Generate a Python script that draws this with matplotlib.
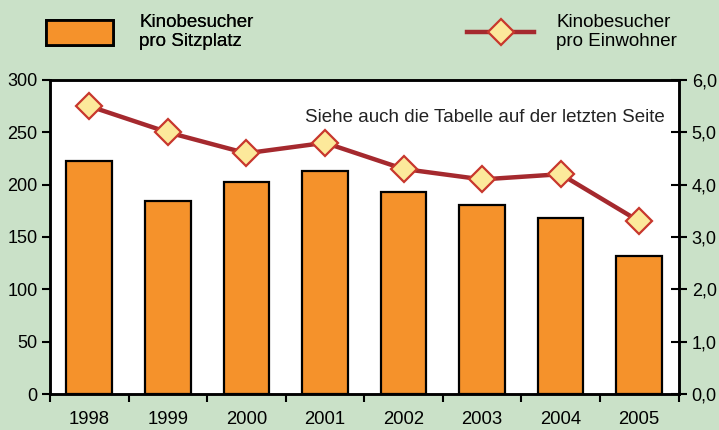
import matplotlib
matplotlib.use("Agg")
import matplotlib.pyplot as plt
from matplotlib.patches import Patch
from matplotlib.lines import Line2D
from matplotlib.ticker import FuncFormatter

years = ["1998", "1999", "2000", "2001", "2002", "2003", "2004", "2005"]
per_seat = [223, 184, 203, 213, 193, 181, 168, 132]
per_capita = [5.5, 5.0, 4.6, 4.8, 4.3, 4.1, 4.2, 3.3]
label_bar = "Kinobesucher\npro Sitzplatz"
label_line = "Kinobesucher\npro Einwohner"
note = "Siehe auch die Tabelle auf der letzten Seite"

BG = "#CAE1C8"
ORANGE = "#F5922B"
RED = "#A5292E"
YELLOW = "#FCE99B"
MARK_EDGE = "#C8372D"

plt.rcParams["font.family"] = ["Liberation Sans", "DejaVu Sans"]
plt.rcParams["font.size"] = 13

fig = plt.figure(figsize=(7.19, 4.30), dpi=100, facecolor=BG)
ax = fig.add_axes([0.0695, 0.0837, 0.8742, 0.7303])
ax.set_facecolor("white")
x = list(range(len(years)))
ax.bar(x, per_seat, width=0.58, color=ORANGE, edgecolor="black", linewidth=1.6, zorder=2)
ax.set_xlim(-0.5, len(years) - 0.5)
ax.set_ylim(0, 300)
ax.set_yticks(range(0, 301, 50))
ax.set_xticks([i - 0.5 for i in range(len(years) + 1)], minor=False)
ax.set_xticklabels([])
ax.set_xticks(x, minor=True)
ax.set_xticklabels(years, minor=True, fontsize=13.3)
ax.tick_params(axis="x", which="major", direction="out", length=6, width=1.5)
ax.tick_params(axis="x", which="minor", length=0, pad=12)
ax.tick_params(axis="y", direction="out", length=6, width=1.5, pad=3)
for s in ax.spines.values():
    s.set_linewidth(1.8)

ax2 = ax.twinx()
ax2.plot(x, per_capita, color=RED, linewidth=3.2, marker="D", markersize=13,
         markerfacecolor=YELLOW, markeredgecolor=MARK_EDGE, markeredgewidth=1.6, zorder=3)
ax2.set_ylim(0, 6)
ax2.set_yticks(range(0, 7))
ax2.yaxis.set_major_formatter(FuncFormatter(lambda v, p: f"{v:.1f}".replace(".", ",")))
ax2.tick_params(axis="y", direction="inout", length=11, width=1.5, pad=4)
for s in ax2.spines.values():
    s.set_linewidth(1.8)

ax2.text(0.9785, 0.882, note, transform=ax2.transAxes, ha="right", va="center",
         fontsize=13.5, color="#222222")

h1 = Patch(facecolor=ORANGE, edgecolor="black", linewidth=2)
leg1 = fig.legend([h1], [label_bar], loc="upper left", bbox_to_anchor=(0.040, 1.007),
                  frameon=False, handlelength=3.6, handleheight=1.6, handletextpad=1.39,
                  fontsize=13.5)
h2 = Line2D([0], [0], color=RED, linewidth=3.2, marker="D", markersize=13,
            markerfacecolor=YELLOW, markeredgecolor=MARK_EDGE, markeredgewidth=1.6)
leg2 = fig.legend([h2], [label_line], loc="upper left", bbox_to_anchor=(0.626, 1.007),
                  frameon=False, handlelength=3.6, handletextpad=1.17, fontsize=13.5)
fig.add_artist(leg1)

fig.savefig("out.png", dpi=100, facecolor=BG)
